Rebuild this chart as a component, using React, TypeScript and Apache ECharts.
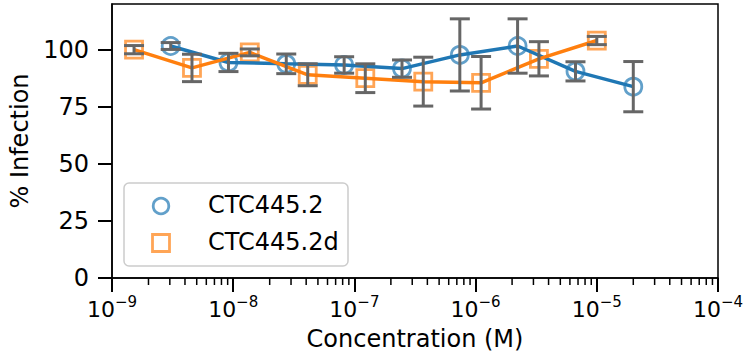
import React, { useEffect, useRef } from "react";
import * as echarts from "echarts";

// Concentrations (M), 3-fold dilutions
const blueConc = [3.05e-9, 9.14e-9, 2.74e-8, 8.23e-8, 2.47e-7, 7.41e-7, 2.22e-6, 6.67e-6, 2.0e-5];
const blueVal = [101.6, 94.4, 93.8, 93.3, 91.7, 97.7, 101.6, 90.5, 83.8];
const blueErr = [1.5, 4.0, 4.3, 3.6, 3.8, 15.8, 11.9, 4.2, 11.0];

const orangeConc = [1.52e-9, 4.57e-9, 1.37e-8, 4.12e-8, 1.23e-7, 3.7e-7, 1.11e-6, 3.33e-6, 1.0e-5];
const orangeVal = [100.0, 92.0, 98.8, 89.0, 87.5, 86.0, 85.5, 96.0, 104.0];
const orangeErr = [1.8, 6.0, 1.5, 4.8, 6.3, 10.7, 11.5, 7.5, 1.8];

const seriesNames = ["CTC445.2", "CTC445.2d"];
const yTicks = [0, 25, 50, 75, 100];
const xMin = 1e-9;
const xMax = 1e-4;

const BLUE = "#1f77b4";
const ORANGE = "#ff7f0e";
const FONT = "DejaVu Sans";

export default function App() {
  const ref = useRef<HTMLDivElement>(null);
  useEffect(() => {
    document.body.style.margin = "0";
    const chart = echarts.init(ref.current!, undefined, { renderer: "svg" });

    const minorVals: number[][] = [];
    for (let e = -9; e < -4; e++) {
      for (let k = 2; k <= 9; k++) minorVals.push([k * Math.pow(10, e), 0]);
    }

    const pairs = (xs: number[], ys: number[]) => xs.map((x, i) => [x, ys[i]]);
    const triples = (xs: number[], ys: number[], es: number[]) => xs.map((x, i) => [x, ys[i], es[i]]);

    const errRender = (params: any, api: any) => {
      const x = api.value(0);
      const y = api.value(1);
      const e = api.value(2);
      const t = api.coord([x, y + e]);
      const b = api.coord([x, y - e]);
      const st = { stroke: "#666666", lineWidth: 3 };
      const cw = 10;
      return {
        type: "group",
        children: [
          { type: "line", shape: { x1: t[0], y1: t[1], x2: b[0], y2: b[1] }, style: st },
          { type: "line", shape: { x1: t[0] - cw, y1: t[1], x2: t[0] + cw, y2: t[1] }, style: st },
          { type: "line", shape: { x1: b[0] - cw, y1: b[1], x2: b[0] + cw, y2: b[1] }, style: st },
        ],
      };
    };

    const option: any = {
      animation: false,
      grid: {
        left: 112,
        right: 31,
        top: 4,
        bottom: 84,
        show: true,
        borderColor: "#000",
        borderWidth: 1.5,
        backgroundColor: "transparent",
      },
      xAxis: {
        type: "log",
        logBase: 10,
        min: xMin,
        max: xMax,
        name: "Concentration (M)",
        nameLocation: "middle",
        nameGap: 49,
        nameTextStyle: { fontSize: 24, fontFamily: FONT, color: "#000" },
        axisLine: { show: true, lineStyle: { color: "#000", width: 1.5 } },
        axisTick: { show: true, length: 14, lineStyle: { color: "#000", width: 2 } },
        minorTick: { show: false },
        splitLine: { show: false },
        axisLabel: {
          margin: 16,
          formatter: (v: number) => {
            const ex = Math.round(Math.log10(v));
            return `{b|10}{s|${ex < 0 ? "\u2212" : ""}${Math.abs(ex)}}`;
          },
          rich: {
            b: { fontSize: 22, fontFamily: FONT, color: "#000", lineHeight: 26, verticalAlign: "bottom" },
            s: { fontSize: 15, fontFamily: FONT, color: "#000", lineHeight: 26, verticalAlign: "top" },
          },
        },
      },
      yAxis: {
        type: "value",
        min: 0,
        max: 120,
        interval: 25,
        name: "% Infection",
        nameLocation: "middle",
        nameGap: 75,
        nameTextStyle: { fontSize: 24, fontFamily: FONT, color: "#000" },
        axisLine: { show: true, lineStyle: { color: "#000", width: 1.5 } },
        axisTick: { show: true, length: 14, lineStyle: { color: "#000", width: 2 }, customValues: yTicks },
        splitLine: { show: false },
        axisLabel: {
          margin: 23,
          fontSize: 24,
          fontFamily: FONT,
          color: "#000",
          customValues: yTicks,
        },
      },
      series: [
        {
          type: "custom",
          name: "minorTicks",
          clip: false,
          silent: true,
          data: minorVals,
          encode: { x: 0, y: 1 },
          renderItem: (params: any, api: any) => {
            const p = api.coord([api.value(0), 0]);
            return {
              type: "line",
              shape: { x1: p[0], y1: p[1], x2: p[0], y2: p[1] + 7 },
              style: { stroke: "#000", lineWidth: 1.5 },
            };
          },
        },
        {
          type: "scatter",
          name: seriesNames[0],
          data: pairs(blueConc, blueVal),
          symbol: "circle",
          symbolSize: 17,
          itemStyle: { color: "rgba(0,0,0,0)", borderColor: BLUE, borderWidth: 2.8, opacity: 0.7 },
          z: 2,
        },
        {
          type: "scatter",
          name: seriesNames[1],
          data: pairs(orangeConc, orangeVal),
          symbol: "rect",
          symbolSize: 17,
          itemStyle: { color: "rgba(0,0,0,0)", borderColor: ORANGE, borderWidth: 2.8, opacity: 0.7 },
          z: 2,
        },
        {
          type: "line",
          name: seriesNames[0] + " fit",
          data: pairs(blueConc, blueVal),
          showSymbol: false,
          lineStyle: { color: BLUE, width: 3.5 },
          z: 3,
        },
        {
          type: "line",
          name: seriesNames[1] + " fit",
          data: pairs(orangeConc, orangeVal),
          showSymbol: false,
          lineStyle: { color: ORANGE, width: 3.5 },
          z: 3,
        },
        {
          type: "custom",
          name: seriesNames[0] + " err",
          data: triples(blueConc, blueVal, blueErr),
          encode: { x: 0, y: 1 },
          renderItem: errRender,
          z: 4,
        },
        {
          type: "custom",
          name: seriesNames[1] + " err",
          data: triples(orangeConc, orangeVal, orangeErr),
          encode: { x: 0, y: 1 },
          renderItem: errRender,
          z: 4,
        },
      ],
      graphic: [
        {
          type: "group",
          z: 100,
          children: [
            {
              type: "rect",
              shape: { x: 124, y: 183, width: 224, height: 83, r: 5 },
              style: { fill: "rgba(255,255,255,0.8)", stroke: "#cccccc", lineWidth: 1.5 },
            },
            {
              type: "circle",
              shape: { cx: 161, cy: 206, r: 7.8 },
              style: { fill: "none", stroke: BLUE, lineWidth: 2.8, opacity: 0.7 },
            },
            {
              type: "rect",
              shape: { x: 152.5, y: 234.5, width: 17, height: 17 },
              style: { fill: "none", stroke: ORANGE, lineWidth: 2.8, opacity: 0.7 },
            },
            {
              type: "text",
              x: 208,
              y: 205,
              style: { text: seriesNames[0], fontSize: 24, fontFamily: FONT, fill: "#000", verticalAlign: "middle" },
            },
            {
              type: "text",
              x: 208,
              y: 242,
              style: { text: seriesNames[1], fontSize: 24, fontFamily: FONT, fill: "#000", verticalAlign: "middle" },
            },
          ],
        },
      ],
    };
    chart.setOption(option);
    return () => chart.dispose();
  }, []);
  return <div ref={ref} style={{ width: 749, height: 362 }} />;
}
